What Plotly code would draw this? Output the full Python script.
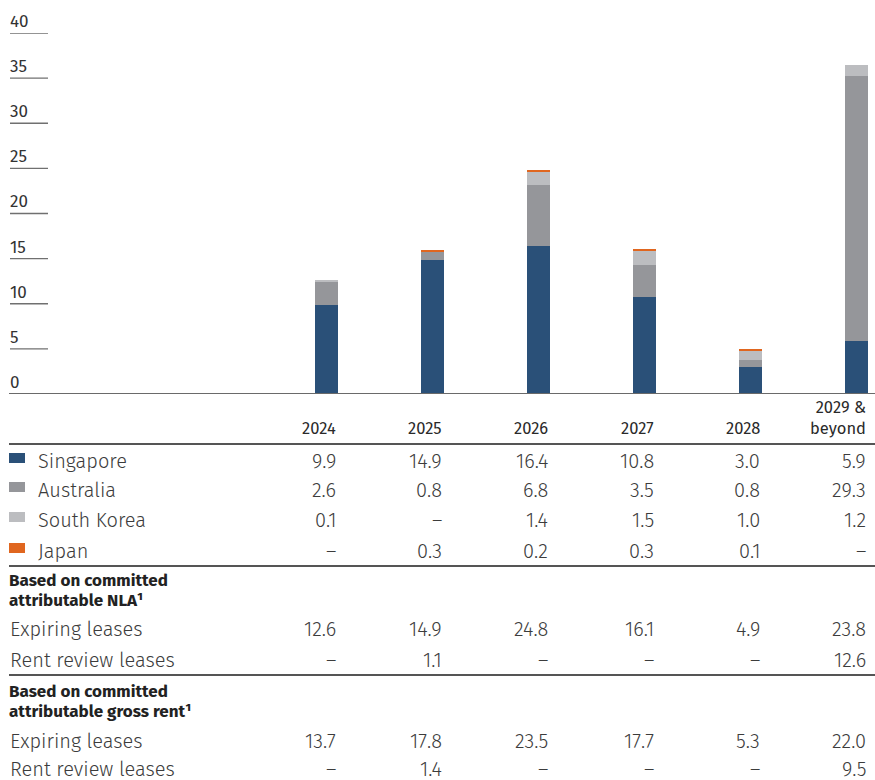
import plotly.graph_objects as go

# Lease expiry profile by year (% of portfolio)
years = ["2024", "2025", "2026", "2027", "2028", "2029 &<br>beyond"]
countries = ["Singapore", "Australia", "South Korea", "Japan"]
singapore = [9.9, 14.9, 16.4, 10.8, 3.0, 5.9]
australia = [2.6, 0.8, 6.8, 3.5, 0.8, 29.3]
south_korea = [0.1, None, 1.4, 1.5, 1.0, 1.2]
japan = [None, 0.3, 0.2, 0.3, 0.1, None]

nla_expiring = [12.6, 14.9, 24.8, 16.1, 4.9, 23.8]
nla_review = [None, 1.1, None, None, None, 12.6]
rent_expiring = [13.7, 17.8, 23.5, 17.7, 5.3, 22.0]
rent_review = [None, 1.4, None, None, None, 9.5]

y_ticks = [0, 5, 10, 15, 20, 25, 30, 35, 40]
colors = ["#2a5078", "#95969a", "#bcbdc0", "#e0661f"]

W, H = 875, 780
FONT = "Fira Sans, Lato, Open Sans, sans-serif"
TXT = "#3c3c3c"
BAR_W = 0.217


def py(pix):
    """pixel row -> paper fraction"""
    return 1 - pix / H


def px(pix):
    return pix / W


def fmt(v):
    return "–" if v is None else f"{v:.1f}"


fig = go.Figure()
series = [singapore, australia, south_korea, japan]
for name, vals, col in zip(countries, series, colors):
    fig.add_trace(go.Bar(
        x=list(range(len(years))), y=[0 if v is None else v for v in vals],
        name=name, marker=dict(color=col, line=dict(width=0)),
        width=BAR_W, showlegend=False,
    ))

shapes = []
annotations = []

# short tick rules with labels sitting above them
for t in y_ticks[1:]:
    shapes.append(dict(type="line", xref="paper", yref="y", x0=px(10), x1=px(48),
                       y0=t, y1=t, line=dict(color="#707070", width=1.3)))
for t in y_ticks:
    annotations.append(dict(xref="paper", yref="y", x=px(8), y=t, yshift=-1,
                            text=str(t), showarrow=False, xanchor="left",
                            yanchor="bottom",
                            font=dict(family=FONT, size=17, color="#333333", weight=400)))

# baseline
shapes.append(dict(type="line", xref="paper", yref="y", x0=px(9), x1=1, y0=0, y1=0,
                   line=dict(color="#6a6a6a", width=2.2)))

# table rules
for yy in (444, 566, 675):
    shapes.append(dict(type="line", xref="paper", yref="paper", x0=px(9), x1=1,
                       y0=py(yy), y1=py(yy), line=dict(color="#555555", width=1.8)))

# column headers
for i, yr in enumerate(years):
    annotations.append(dict(xref="x", yref="paper", x=i + BAR_W / 2, y=py(440),
                            text=yr, showarrow=False, xanchor="right", yanchor="bottom",
                            align="right",
                            font=dict(family=FONT, size=16.5, color="#2a2a2a", weight=400)))


def value_row(label, vals, ypix, label_x=8):
    annotations.append(dict(xref="paper", yref="paper", x=px(label_x), y=py(ypix),
                            text=label, showarrow=False, xanchor="left", yanchor="middle",
                            font=dict(family=FONT, size=20, color=TXT, weight=300)))
    for i, v in enumerate(vals):
        annotations.append(dict(xref="x", yref="paper", x=i + BAR_W / 2, y=py(ypix),
                                text=fmt(v), showarrow=False, xanchor="right",
                                yanchor="middle",
                                font=dict(family=FONT, size=20, color=TXT, weight=300)))


# country rows with colour keys
row_y = [461, 490, 520, 551]
for name, vals, col, yy in zip(countries, series, colors, row_y):
    shapes.append(dict(type="rect", xref="paper", yref="paper", x0=px(9), x1=px(25),
                       y0=py(yy - 8), y1=py(yy + 2), fillcolor=col, line=dict(width=0)))
    value_row(name, vals, yy, label_x=36)


def heading(text, ypix):
    annotations.append(dict(xref="paper", yref="paper", x=px(7), y=py(ypix),
                            text=text, showarrow=False, xanchor="left", yanchor="middle",
                            font=dict(family=FONT, size=17, color="#222222", weight=700)))


heading("Based on committed", 580)
heading("attributable NLA¹", 600)
value_row("Expiring leases", nla_expiring, 629)
value_row("Rent review leases", nla_review, 660)
heading("Based on committed", 691)
heading("attributable gross rent¹", 711)
value_row("Expiring leases", rent_expiring, 741)
value_row("Rent review leases", rent_review, 769)

# map bar index to pixels: centre of first bar at x=326.5, spacing 106 px
x0 = -326.5 / 106
x1 = (W - 326.5) / 106

fig.update_layout(
    width=W, height=H, margin=dict(l=0, r=0, t=0, b=0),
    paper_bgcolor="white", plot_bgcolor="white",
    barmode="stack", bargap=0,
    xaxis=dict(range=[x0, x1], domain=[0, 1], visible=False, fixedrange=True),
    yaxis=dict(range=[0, 40], domain=[py(394), py(33)], visible=False, fixedrange=True),
    shapes=shapes, annotations=annotations,
)

fig.write_html("out.html")
